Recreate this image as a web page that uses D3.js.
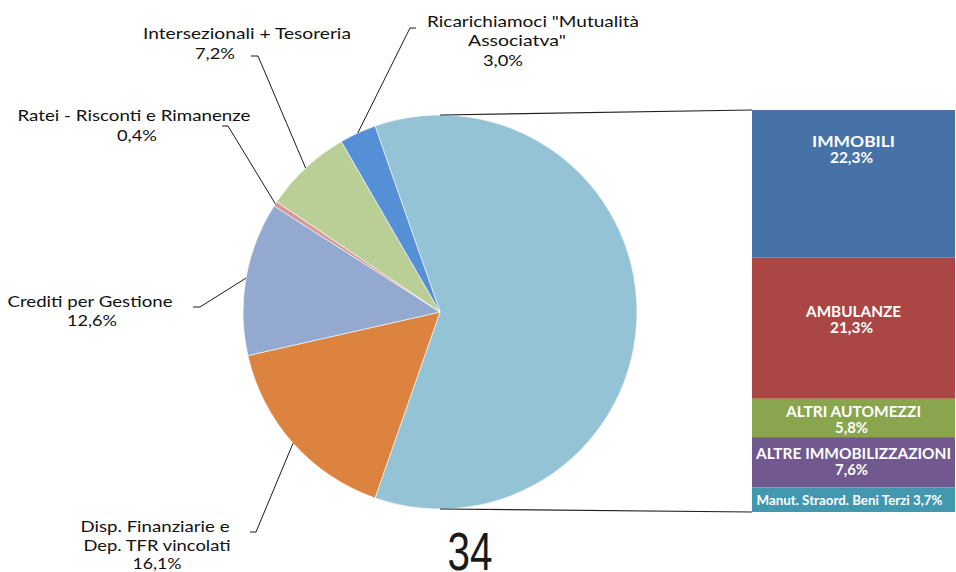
<!DOCTYPE html>
<html><head><meta charset="utf-8">
<script src="https://cdn.jsdelivr.net/npm/d3@7"></script>
<style>html,body{margin:0;padding:0;background:#fff}svg{display:block}</style>
</head><body>
<svg id="chart" width="956" height="572"></svg>
<script>
// ---- data ----
const pieCategories = ["Altre (dettaglio)", "Disp. Finanziarie e Dep. TFR vincolati", "Crediti per Gestione", "Ratei - Risconti e Rimanenze", "Intersezionali + Tesoreria", "Ricarichiamoci \"Mutualità Associatva\""];
const pieValues = [60.7, 16.1, 12.6, 0.4, 7.2, 3.0];
const pieColors = ["#93c3d5", "#dc843f", "#94a9d0", "#d59897", "#bacf96", "#558fd6"];
const pieLabelText = [
  null,
  ["Disp. Finanziarie e", "Dep. TFR vincolati", "16,1%"],
  ["Crediti per Gestione", "12,6%"],
  ["Ratei - Risconti e Rimanenze", "0,4%"],
  ["Intersezionali + Tesoreria", "7,2%"],
  ["Ricarichiamoci \"Mutualità", "Associatva\"", "3,0%"]
];
const barCategories = ["IMMOBILI", "AMBULANZE", "ALTRI AUTOMEZZI", "ALTRE IMMOBILIZZAZIONI", "Manut. Straord. Beni Terzi"];
const barValues = [22.3, 21.3, 5.8, 7.6, 3.7];
const barLabelText = ["22,3%", "21,3%", "5,8%", "7,6%", "3,7%"];
const barColors = ["#4672a8", "#aa4644", "#89a54e", "#71588f", "#4198af"];
const pageNumber = "34";

// ---- layout ----
const svg = d3.select("#chart");
const cx = 440, cy = 312, R = 197;
const total = d3.sum(pieValues);
const bigFrac = pieValues[0] / total;
const start = Math.PI / 2 - Math.PI * bigFrac;
const pie = d3.pie().sort(null).value(d => d).startAngle(start).endAngle(start + 2 * Math.PI);
const arcs = pie(pieValues);
const arc = d3.arc().innerRadius(0).outerRadius(R);
const edge = d3.arc().innerRadius(R).outerRadius(R);

const g = svg.append("g").attr("transform", `translate(${cx},${cy})`);
g.selectAll("path").data(arcs).join("path")
  .attr("d", arc).attr("fill", (d, i) => pieColors[i])
  .attr("stroke", "#ffffff").attr("stroke-width", 0.6);

// bar
const barX0 = 752, barX1 = 955, barTop = 110, barBottom = 512;
const barSum = d3.sum(barValues);
const y = d3.scaleLinear().domain([0, barSum]).range([barTop, barBottom]);
const cum = d3.cumsum(barValues);
const segs = barValues.map((v, i) => ({ v, i, y0: cum[i] - v, y1: cum[i] }));
svg.selectAll("rect.seg").data(segs).join("rect").attr("class", "seg")
  .attr("x", barX0).attr("width", barX1 - barX0)
  .attr("y", d => y(d.y0)).attr("height", d => y(d.y1) - y(d.y0))
  .attr("fill", d => barColors[d.i]);

// connector lines
svg.append("line").attr("x1", cx).attr("y1", cy - R).attr("x2", barX0).attr("y2", barTop)
  .attr("stroke", "#222").attr("stroke-width", 1.2);
svg.append("line").attr("x1", cx).attr("y1", cy + R).attr("x2", barX0).attr("y2", barBottom)
  .attr("stroke", "#222").attr("stroke-width", 1.2);

// bar labels
const barLabelShift = [-34, -8, 2, 0, 0];
const barLabelFont = "Lato, 'Open Sans', sans-serif";
const barLabelWidths = [[83, 43], [95, 43], [135, 33], [195, 33], [186]];
segs.forEach((d, i) => {
  const mid = (y(d.y0) + y(d.y1)) / 2 + barLabelShift[i];
  const xc = (barX0 + barX1) / 2;
  if (i === 4) {
    svg.append("text").attr("x", xc - 4).attr("y", mid + 5)
      .attr("text-anchor", "middle").attr("fill", "#fff")
      .attr("font-family", barLabelFont).attr("font-weight", "bold").attr("font-size", 13)
      .attr("textLength", barLabelWidths[i][0]).attr("lengthAdjust", "spacingAndGlyphs")
      .text(barCategories[i] + " " + barLabelText[i]);
  } else {
    const lines = [barCategories[i], barLabelText[i]];
    lines.forEach((t, k) => {
      svg.append("text").attr("x", xc + (k === 1 ? -2 : 0)).attr("y", mid - 3 + k * 16)
        .attr("text-anchor", "middle").attr("fill", "#fff")
        .attr("font-family", barLabelFont).attr("font-weight", "bold").attr("font-size", 14.5)
        .attr("textLength", barLabelWidths[i][k]).attr("lengthAdjust", "spacingAndGlyphs")
        .text(t);
    });
  }
});

// pie labels with leader lines
const labelFont = "Lato, 'Open Sans', sans-serif";
const labelSpec = [
  null,
  { elbow: [256, 532], end: [250, 532], lines: [[155, 532, 149], [157, 551, 147], [157, 569, 49]] },
  { elbow: [200, 307], end: [193, 307], lines: [[90, 307, 165], [92, 326, 50]] },
  { elbow: [228, 126], end: [222, 126], lines: [[134, 121, 233], [137, 141, 40]] },
  { elbow: [258, 56], end: [251, 56], lines: [[247, 39, 208], [215, 59, 40]] },
  { elbow: [410, 28], end: [416, 28], lines: [[533, 27, 212], [517, 46, 98], [503, 66, 40]] }
];
arcs.forEach((a, i) => {
  const s = labelSpec[i];
  if (!s) return;
  const [ex, ey] = edge.centroid(a);
  const p0 = [cx + ex, cy + ey];
  svg.append("path")
    .attr("d", d3.line()([p0, s.elbow, s.end]))
    .attr("fill", "none").attr("stroke", "#1a1a1a").attr("stroke-width", 1);
  pieLabelText[i].forEach((t, k) => {
    const [lx, ly, w] = s.lines[k];
    svg.append("text").attr("x", lx).attr("y", ly)
      .attr("text-anchor", "middle").attr("fill", "#111")
      .attr("font-family", labelFont).attr("font-size", 16)
      .attr("textLength", w).attr("lengthAdjust", "spacingAndGlyphs")
      .text(t);
  });
});

// page number
svg.append("text").attr("x", 470).attr("y", 570).attr("text-anchor", "middle")
  .attr("fill", "#1a1a1a").attr("font-family", "'Liberation Sans Narrow', 'Liberation Sans', sans-serif")
  .attr("font-size", 53).attr("textLength", 45).attr("lengthAdjust", "spacingAndGlyphs")
  .text(pageNumber);
</script>
</body></html>
